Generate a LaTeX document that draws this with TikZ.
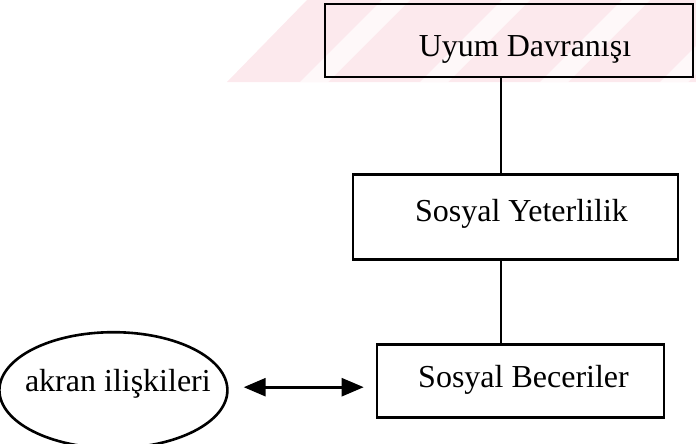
\documentclass[tikz,border=0pt]{standalone}
\usepackage{fontspec}
\setmainfont{Liberation Serif}
\usetikzlibrary{positioning}
\usetikzlibrary{arrows.meta}
\usetikzlibrary{shapes.geometric}
\definecolor{stamp}{RGB}{252,233,237}

\begin{document}
\begin{tikzpicture} [
  x=1pt, y=-1pt,
  every node/.style={inner sep=0,font=\fontsize{32}{38}\selectfont},
  stage/.style={draw,line width=2.6pt,rectangle,minimum height=73pt},
  peer/.style={draw,line width=2.6pt,ellipse,minimum width=228pt,minimum height=116pt},
  caption/.style={anchor=base},
  link/.style={line width=2.6pt},
  mutual/.style={link,{Triangle[length=22pt,width=18pt]}-{Triangle[length=22pt,width=18pt]},shorten <=15pt,shorten >=12pt}
  ]
  \useasboundingbox (0,0) rectangle (696,444);
  % watermark band behind the top box
  \fill [stamp] (227,82) -- (307,0) -- (696,0) -- (696,82) -- cycle;
  \begin{scope}
    \clip (227,82) -- (307,0) -- (696,0) -- (696,82) -- cycle;
    \foreach \s in {300,420,540,660,780}
      \fill [white,opacity=.7] (\s,82) -- (\s+82,0) -- (\s+110,0) -- (\s+28,82) -- cycle;
  \end{scope}
  \coordinate (spine) at (501,0);
  \node [stage,minimum width=368pt] (top) at (509,40.5) {};
  \node [stage,minimum width=325pt,minimum height=85pt,below=95pt of top,xshift=6.5pt] (mid) {};
  \node [stage,minimum width=287pt,below=82pt of mid,xshift=5pt] (bot) {};
  \node [peer,left=147pt of bot,yshift=-9.5pt] (ell) {};
  % texts
  \node [caption] (topText) at ([xshift=16pt,yshift=-16pt]top.center) {Uyum Davranışı};
  \node [caption] (midText) at ([xshift=6pt,yshift=-4.5pt]mid.center) {Sosyal Yeterlilik};
  \node [caption] (botText) at ([xshift=3pt,yshift=-6.5pt]bot.center) {Sosyal Beceriler};
  \node [caption] (ellText) at ([xshift=4.5pt,yshift=-1pt]ell.center) {akran ilişkileri};
  \draw [link] (top.south -| spine) -- (mid.north -| spine);
  \draw [link] (mid.south -| spine) -- (bot.north -| spine);
  \draw [mutual] ([yshift=3pt]ell.east) -- ([yshift=3pt]ell.east -| bot.west);
\end{tikzpicture}
\end{document}
